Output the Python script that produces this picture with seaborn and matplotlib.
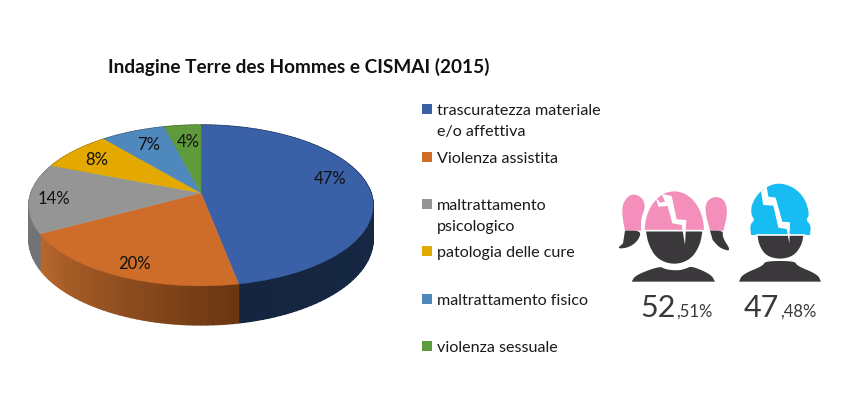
import numpy as np
import matplotlib
matplotlib.use("Agg")
import matplotlib.pyplot as plt
from matplotlib.collections import PolyCollection
from matplotlib.transforms import Transform
from matplotlib.colors import to_rgb
import seaborn as sns

# ---- data ----
title = "Indagine Terre des Hommes e CISMAI (2015)"
categories = ["trascuratezza materiale\ne/o affettiva", "Violenza assistita",
              "maltrattamento\npsicologico", "patologia delle cure",
              "maltrattamento fisico", "violenza sessuale"]
values = [47, 20, 14, 8, 7, 4]
gender_whole = ["52", "47"]
gender_frac = [",51%", ",48%"]

# ---- styles / layout ----
colors = ["#3A60A8", "#CE6C2A", "#959595", "#E3A900", "#4F88BD", "#5F9A3C"]
side_from = ["#1A2D50", "#6A3612", "#6F7377", "#8a6a00", "#2f5270", "#3a5c24"]
side_to = ["#15253F", "#B8682D", "#74787C", "#8a6a00", "#2f5270", "#3a5c24"]
label_xy = [(330, 179), (135, 264), (54, 199), (97, 160), (149, 145), (188, 142)]
legend_y = [109, 157, 204, 251, 299, 346]
CX, CY, A, B, K, DEPTH = 201, 193, 170, 78.5, 0.155, 33

sns.set_theme(style="white")
plt.rcParams["font.family"] = ["Lato", "DejaVu Sans"]
palette = sns.color_palette(colors)


class Perspective(Transform):
    input_dims = output_dims = 2
    is_affine = False

    def transform_non_affine(self, xy):
        xy = np.asarray(xy, float)
        w = 1 + K * xy[:, 1]
        return np.column_stack((CX + A * xy[:, 0] / w, CY - B * xy[:, 1] / w))


fig = plt.figure(figsize=(8.56, 3.93), dpi=100, facecolor="white")
ax = fig.add_axes([0, 0, 1, 1])
persp = Perspective()

# pie top
wedges, _, autotexts = ax.pie(values, colors=palette, startangle=90, counterclock=False,
                              autopct="%d%%", wedgeprops=dict(lw=0.3))
ax.set_aspect("auto")
ax.set_xlim(0, 856)
ax.set_ylim(393, 0)
ax.axis("off")
for w, c in zip(wedges, palette):
    w.set_transform(persp + ax.transData)
    w.set_edgecolor(c)
    w.set_zorder(3)
    w.set_clip_on(False)
for t, xy in zip(autotexts, label_xy):
    t.set_position(xy)
    t.set_fontsize(12)
    t.set_color("#111111")
    t.set_ha("center")
    t.set_va("center")
    t.set_zorder(4)

# pie side, shaded slice by slice
polys, face = [], []
edges = 90 - np.cumsum([0] + values) * 3.6
for i in range(len(values)):
    th = np.radians(np.linspace(edges[i], edges[i + 1], max(4, values[i] * 2)))
    p = persp.transform_non_affine(np.column_stack((np.cos(th), np.sin(th))))
    d = DEPTH / (1 + K * np.sin(th))
    for j in range(len(th) - 1):
        polys.append([p[j], p[j + 1], p[j + 1] + [0, d[j + 1]], p[j] + [0, d[j]]])
        f = j / (len(th) - 2)
        face.append(tuple((1 - f) * np.array(to_rgb(side_from[i])) + f * np.array(to_rgb(side_to[i]))))
ax.add_collection(PolyCollection(polys, facecolors=face, edgecolors=face, linewidths=1.0, zorder=2))

# title and legend
ax.text(108, 67, title, fontsize=13.65, fontweight="bold", color="#111111", ha="left", va="center")
for lab, y, c in zip(categories, legend_y, palette):
    ax.fill([422, 432, 432, 422], [y - 5, y - 5, y + 5, y + 5], color=c, lw=0)
    ax.text(437, y - 5, lab, fontsize=11.6, color="#1a1a1a", ha="left", va="top", linespacing=1.6)


# icons (decoration traced from the picture, not data)
def z(x0, y0, pts, smooth=True):
    p = np.array([(x0 + x / 3, y0 + y / 3) for x, y in pts], float)
    if smooth:  # corner cutting, end points kept so the flat split line stays straight
        for _ in range(3):
            q = np.empty((2 * (len(p) - 1), 2))
            q[0::2] = 0.75 * p[:-1] + 0.25 * p[1:]
            q[1::2] = 0.25 * p[:-1] + 0.75 * p[1:]
            p = np.vstack((p[0], q, p[-1]))
    return p.T


PINK, CYAN, DARK = "#F48FBC", "#16BCF2", "#3A383B"
G = (615, 180)
ax.fill(*z(*G, [(50, 305), (62, 285), (135, 258), (150, 268), (190, 272), (215, 265), (230, 258), (288, 283), (300, 305)]), color=DARK, lw=0)
ax.fill(*z(*G, [(30, 152), (22, 110), (22, 70), (48, 40), (80, 50), (92, 80), (78, 115), (78, 152)]), color=PINK, lw=0)
ax.fill(*z(*G, [(30, 152), (78, 152), (72, 178), (45, 202), (5, 207), (24, 190)]), color=DARK, lw=0)
ax.fill(*z(*G, [(285, 152), (270, 95), (275, 62), (302, 48), (330, 60), (338, 100), (325, 152)]), color=PINK, lw=0)
ax.fill(*z(*G, [(285, 152), (325, 152), (322, 172), (350, 215), (315, 205), (293, 180)]), color=DARK, lw=0)
t = np.linspace(np.pi, 2 * np.pi, 60)
ax.fill(615 + 178 / 3 + 91 / 3 * np.cos(t), 180 + 152 / 3 + 120 / 3 * np.sin(t), color=PINK, ec="white", lw=1.0)
ax.fill(*z(*G, [(90, 152), (98, 195), (125, 240), (178, 258), (230, 240), (258, 195), (265, 152)]), color=DARK, ec="white", lw=1.2)
ax.fill(*z(*G, [(122, 52), (130, 80), (158, 78), (172, 130), (200, 135), (210, 195), (214, 120), (185, 118),
                (170, 48), (140, 42), (150, 65), (136, 68)], smooth=False), color="white", lw=0)

M = (735, 175)
ax.fill(*z(*M, [(12, 320), (22, 298), (85, 272), (90, 258), (180, 258), (185, 272), (248, 298), (258, 320)]), color=DARK, lw=0)
ax.fill(*z(*M, [(48, 180), (45, 148), (60, 135), (48, 120), (50, 85), (78, 45), (125, 22), (175, 35),
                (210, 70), (224, 120), (212, 135), (228, 150), (225, 180)]), color=CYAN, lw=0)
ax.fill(*z(*M, [(65, 180), (70, 212), (92, 245), (135, 256), (178, 245), (202, 212), (208, 180)]), color=DARK, ec="white", lw=1.2)
ax.fill(*z(*M, [(78, 50), (85, 90), (115, 92), (130, 158), (155, 162), (163, 205), (165, 142), (142, 140),
                (122, 68), (100, 65), (95, 35)], smooth=False), color="white", lw=0)

# gender percentages
for whole, frac, x, xf in zip(gender_whole, gender_frac, (640, 744), (676, 780)):
    ax.text(x, 317, whole, fontsize=22, color=DARK, ha="left", va="baseline")
    ax.text(xf, 317, frac, fontsize=12, color=DARK, ha="left", va="baseline")

fig.savefig("out.png", dpi=100, facecolor="white")
